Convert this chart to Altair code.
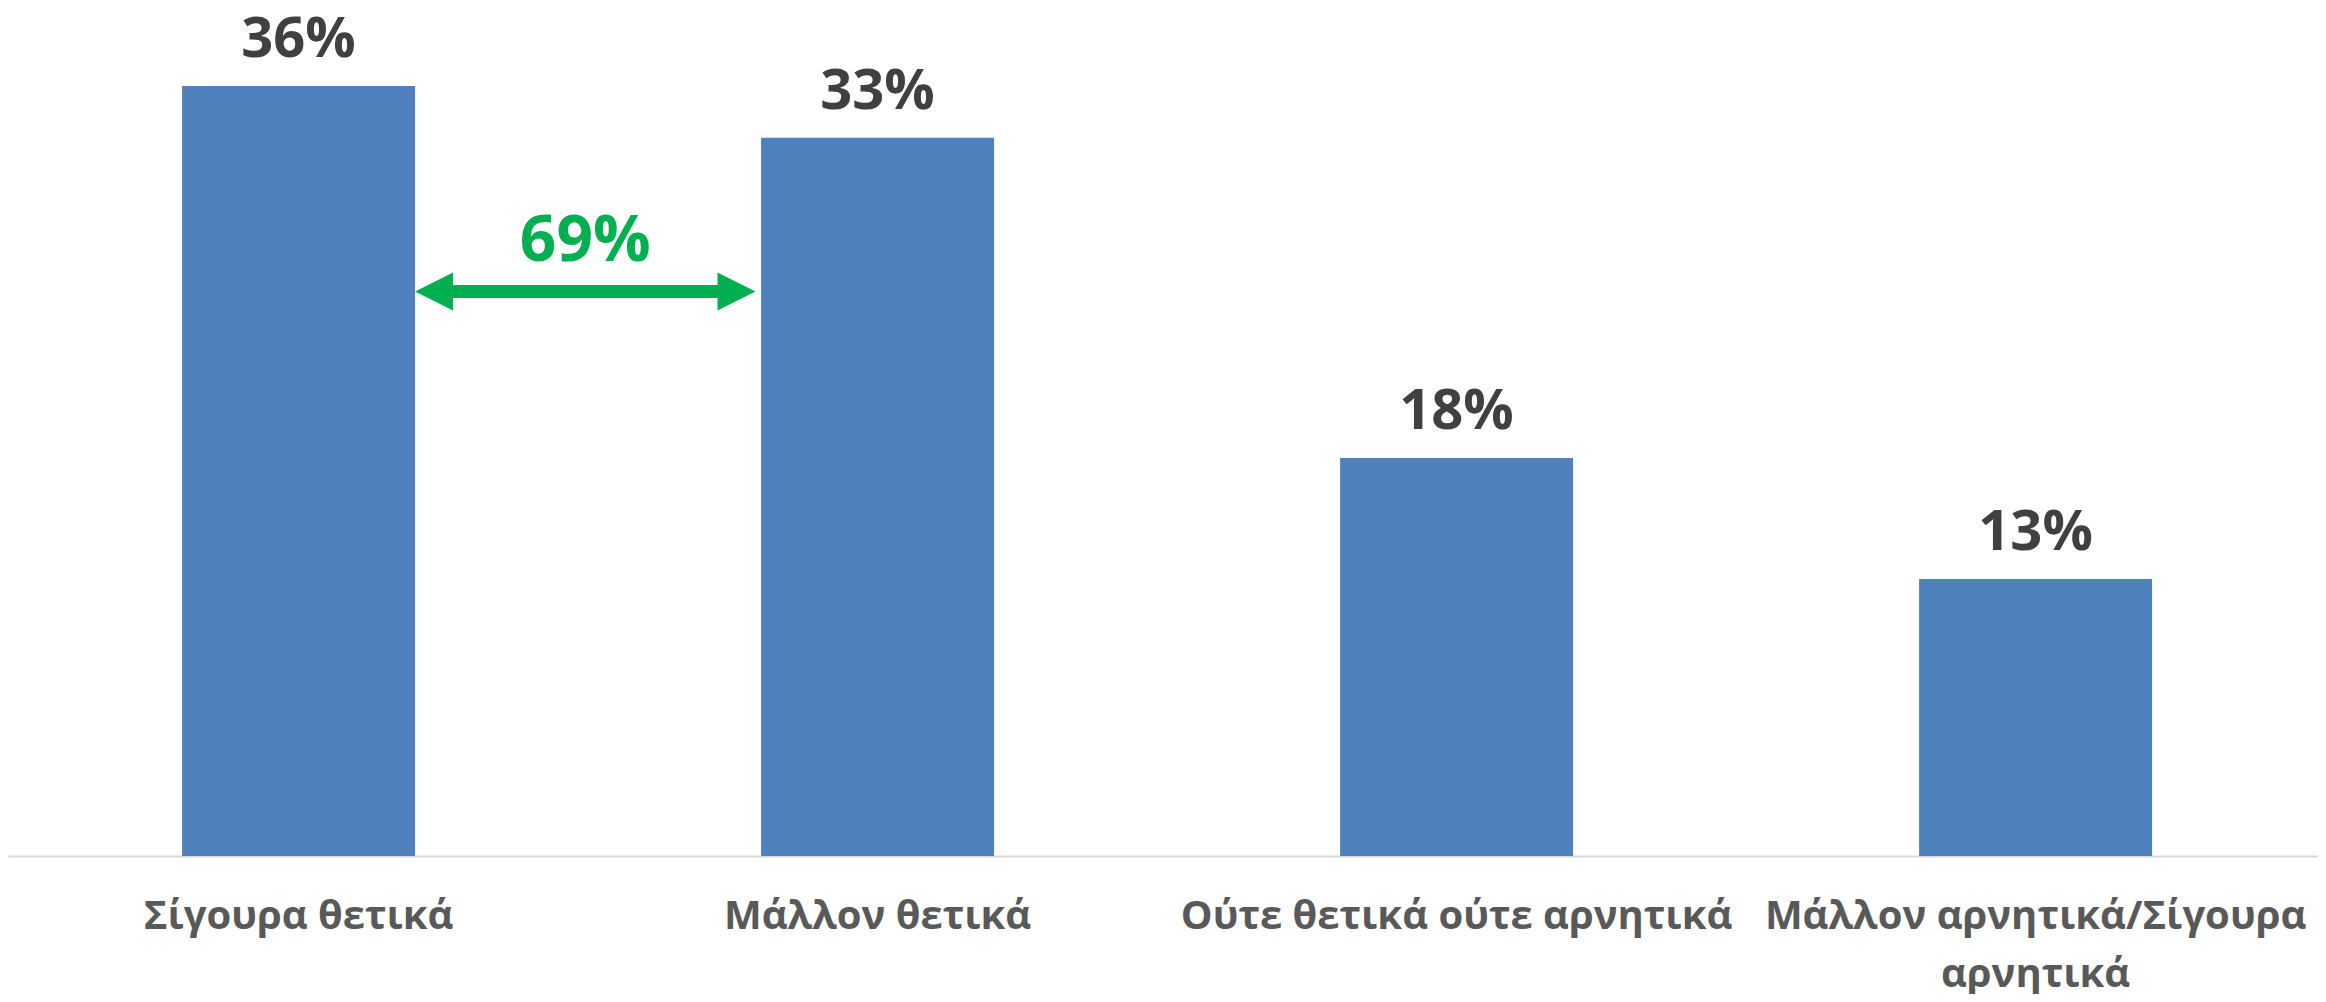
import altair as alt
import pandas as pd

# ---- data ----
categories = [
    "Σίγουρα θετικά",
    "Μάλλον θετικά",
    "Ούτε θετικά ούτε αρνητικά",
    "Μάλλον αρνητικά/Σίγουρα αρνητικά",
]
category_lines = [
    ["Σίγουρα θετικά"],
    ["Μάλλον θετικά"],
    ["Ούτε θετικά ούτε αρνητικά"],
    ["Μάλλον αρνητικά/Σίγουρα", "αρνητικά"],
]
values = [35.6, 33.2, 18.4, 12.8]
value_labels = ["36%", "33%", "18%", "13%"]

# combined annotation between the first two bars (positions in category-step units)
arrow_from = [0.703]
arrow_to = [1.291]
arrow_level = [26.1]
arrow_label = ["69%"]

# ---- styling ----
BAR = "#4F81BD"
GREEN = "#00B050"
VALUE_COLOR = "#404040"
LABEL_COLOR = "#595959"
FONT = "Open Sans"
W, H = 2310, 848
YMAX = 39.2
PAD_INNER, PAD_OUTER, ALIGN = 0.5976, 0.2936, 0.512
STEPS = len(categories) - PAD_INNER + 2 * PAD_OUTER  # width of the range in steps

bars_df = pd.DataFrame({"cat": categories, "value": values, "label": value_labels})
arrow_df = pd.DataFrame({"x1": arrow_from, "x2": arrow_to, "y": arrow_level, "label": arrow_label})
arrow_df["xm"] = (arrow_df["x1"] + arrow_df["x2"]) / 2

# multi-line label expression
parts = []
for cat, lines in zip(categories, category_lines):
    if len(lines) > 1:
        arr = "[" + ", ".join("'" + l + "'" for l in lines) + "]"
        parts.append(f"datum.label == '{cat}' ? {arr} : ")
label_expr = "".join(parts) + "datum.label"

yscale = alt.Scale(domain=[0, YMAX], nice=False, zero=True)

x_axis = alt.Axis(
    title=None,
    labelAngle=0,
    ticks=False,
    domainColor="#D9D9D9",
    domainWidth=2,
    labelFont=FONT,
    labelFontSize=40,
    labelFontWeight="bold",
    labelColor=LABEL_COLOR,
    labelPadding=40,
    labelLineHeight=58,
    labelLimit=900,
    labelOverlap=False,
    labelBound=False,
    labelExpr=label_expr,
)

xband = alt.X(
    "cat:N",
    sort=categories,
    scale=alt.Scale(paddingInner=PAD_INNER, paddingOuter=PAD_OUTER, align=ALIGN),
    axis=x_axis,
)

bars = alt.Chart(bars_df).mark_bar(color=BAR).encode(
    x=xband,
    y=alt.Y("value:Q", scale=yscale, axis=None),
)
bar_text = alt.Chart(bars_df).mark_text(
    baseline="alphabetic", dy=-29, fontSize=56, fontWeight="bold",
    color=VALUE_COLOR, font=FONT,
).encode(
    x=alt.X("cat:N", sort=categories),
    y=alt.Y("value:Q", scale=yscale, axis=None),
    text="label:N",
)
bar_layer = alt.layer(bars, bar_text)

xq = alt.Scale(domain=[0, STEPS], nice=False, zero=False)
arrow_line = alt.Chart(arrow_df).mark_rule(
    color=GREEN, strokeWidth=13, xOffset=36, x2Offset=-36
).encode(
    x=alt.X("x1:Q", scale=xq, axis=None),
    x2="x2:Q",
    y=alt.Y("y:Q", scale=yscale, axis=None),
)
head_left = alt.Chart(arrow_df).mark_point(
    shape="M-1,0L1,-1L1,1Z", size=1444, filled=True, opacity=1,
    color=GREEN, strokeWidth=0, xOffset=19,
).encode(
    x=alt.X("x1:Q", scale=xq, axis=None),
    y=alt.Y("y:Q", scale=yscale, axis=None),
)
head_right = alt.Chart(arrow_df).mark_point(
    shape="M1,0L-1,-1L-1,1Z", size=1444, filled=True, opacity=1,
    color=GREEN, strokeWidth=0, xOffset=-19,
).encode(
    x=alt.X("x2:Q", scale=xq, axis=None),
    y=alt.Y("y:Q", scale=yscale, axis=None),
)
arrow_text = alt.Chart(arrow_df).mark_text(
    baseline="alphabetic", dy=-30, fontSize=64, fontWeight="bold",
    color=GREEN, font=FONT,
).encode(
    x=alt.X("xm:Q", scale=xq, axis=None),
    y=alt.Y("y:Q", scale=yscale, axis=None),
    text="label:N",
)
arrow_layer = alt.layer(arrow_line, head_left, head_right, arrow_text)

chart = (
    alt.layer(bar_layer, arrow_layer)
    .resolve_scale(x="independent")
    .properties(width=W, height=H, padding={"left": 0, "top": 0, "right": 0, "bottom": 0})
    .configure_view(strokeWidth=0)
)

chart.save("out.html", embed_options={"renderer": "svg", "actions": False})
